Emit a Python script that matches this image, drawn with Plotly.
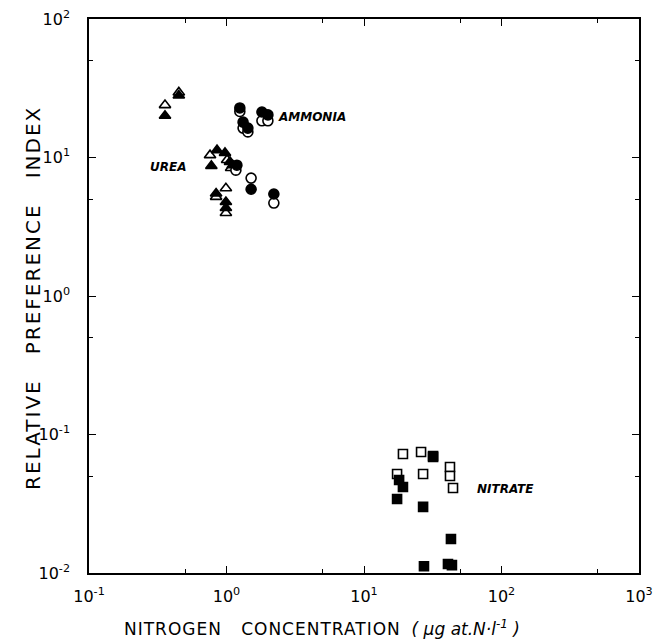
import math
import plotly.graph_objects as go

# Urea (triangles)
urea_filled_x = [0.45, 0.357, 0.853, 0.975, 1.06, 1.11, 0.776, 0.84, 0.99, 0.99]
urea_filled_y = [28.0, 20.0, 11.3, 10.8, 9.3, 8.8, 8.7, 5.5, 4.77, 4.32]
urea_open_x = [0.45, 0.357, 0.759, 1.01, 1.08, 0.84, 0.99, 0.99]
urea_open_y = [29.5, 23.9, 10.4, 9.6, 8.4, 5.2, 6.0, 3.97]

# Ammonia (circles)
amm_filled_x = [1.25, 1.81, 2.0, 1.32, 1.43, 1.19, 1.51, 2.21]
amm_filled_y = [22.8, 21.3, 20.3, 18.0, 16.3, 8.8, 5.9, 5.45]
amm_open_x = [1.25, 1.81, 2.0, 1.32, 1.43, 1.17, 1.51, 2.21]
amm_open_y = [21.5, 18.4, 18.4, 16.3, 15.3, 8.1, 7.1, 4.69]

# Nitrate (squares)
nit_filled_x = [31.8, 18.0, 19.2, 17.4, 26.9, 42.9, 27.3, 40.8, 43.6]
nit_filled_y = [0.0688, 0.0469, 0.0418, 0.0342, 0.0300, 0.0176, 0.0112, 0.0116, 0.0114]
nit_open_x = [19.2, 26.0, 17.4, 26.9, 42.2, 42.2, 44.4, 31.8]
nit_open_y = [0.0723, 0.0748, 0.0519, 0.0519, 0.0582, 0.0501, 0.0411, 0.0700]

x_tickvals = [0.1, 1, 10, 100, 1000]
x_ticktext = ["10<sup>-1</sup>", "10<sup>0</sup>", "10<sup>1</sup>", "10<sup>2</sup>", "10<sup>3</sup>"]
y_tickvals = [0.01, 0.1, 1, 10, 100]
y_ticktext = ["10<sup>-2</sup>", "10<sup>-1</sup>", "10<sup>0</sup>", "10<sup>1</sup>", "10<sup>2</sup>"]
x_minor = [0.5, 5, 50, 500]
y_minor = [0.05, 0.5, 5, 50]

series_labels = ["AMMONIA", "UREA", "NITRATE"]
label_x = [2.3, 0.27, 64]
label_y = [19.5, 8.6, 0.0403]

fig = go.Figure()

def add(x, y, symbol, filled, size=10):
    fig.add_trace(go.Scatter(
        x=x, y=y, mode="markers",
        marker=dict(symbol=symbol, size=size,
                    color="black" if filled else "white",
                    line=dict(color="black", width=1.6)),
        showlegend=False, hoverinfo="skip"))

add(urea_open_x, urea_open_y, "triangle-up", False)
add(urea_filled_x, urea_filled_y, "triangle-up", True)
add(amm_open_x, amm_open_y, "circle", False)
add(amm_filled_x, amm_filled_y, "circle", True)
add(nit_open_x, nit_open_y, "square", False, 9)
add(nit_filled_x, nit_filled_y, "square", True, 9)

font = dict(family="DejaVu Sans, Liberation Sans, sans-serif", color="black")

common = dict(type="log", showline=True, linecolor="black", linewidth=1.6,
              mirror="ticks", ticks="inside", ticklen=7, tickwidth=1.3, tickcolor="black",
              tickmode="array", showgrid=False, zeroline=False, automargin=False,
              tickfont=dict(size=16, **font))
fig.update_xaxes(range=[-1, 3], tickvals=x_tickvals, ticktext=x_ticktext,
                 ticklabelstandoff=8,
                 minor=dict(tickmode="array", tickvals=x_minor, ticks="inside", ticklen=4,
                            tickcolor="black", tickwidth=1), **common)
fig.update_yaxes(range=[-2, 2], tickvals=y_tickvals, ticktext=y_ticktext,
                 ticklabelstandoff=14,
                 minor=dict(tickmode="array", tickvals=y_minor, ticks="inside", ticklen=4,
                            tickcolor="black", tickwidth=1), **common)

for t, x, y in zip(series_labels, label_x, label_y):
    fig.add_annotation(x=math.log10(x), y=math.log10(y), text="<i><b>" + t + "</b></i>",
                       showarrow=False, xanchor="left", yanchor="middle",
                       font=dict(size=12, **font))

NB = "\u00a0"
# axis titles (plot area 550 x 554 px)
fig.add_annotation(xref="paper", yref="paper", x=(322 - 89) / 550, y=(573 - 628) / 554,
                   text="<span style=\"letter-spacing:1px\">NITROGEN" + NB * 3 + "CONCENTRATION</span>"
                        + NB * 2 + "<i>(" + NB + "μg" + NB + "at.N·l<sup>-1</sup>" + NB + ")</i>",
                   showarrow=False, xanchor="center", yanchor="middle",
                   font=dict(size=17, **font))
fig.add_annotation(xref="paper", yref="paper", x=(33 - 89) / 550, y=(573 - 298) / 554,
                   text="<span style=\"letter-spacing:2px\">RELATIVE" + NB * 3 + "PREFERENCE"
                        + NB * 3 + "INDEX</span>", textangle=-90,
                   showarrow=False, xanchor="center", yanchor="middle",
                   font=dict(size=20, **font))

fig.update_layout(width=654, height=642, margin=dict(l=89, r=15, t=19, b=69),
                  plot_bgcolor="white", paper_bgcolor="white")

fig.write_html("out.html", config={"displayModeBar": False},
               post_script="document.body.style.margin='0px';")
